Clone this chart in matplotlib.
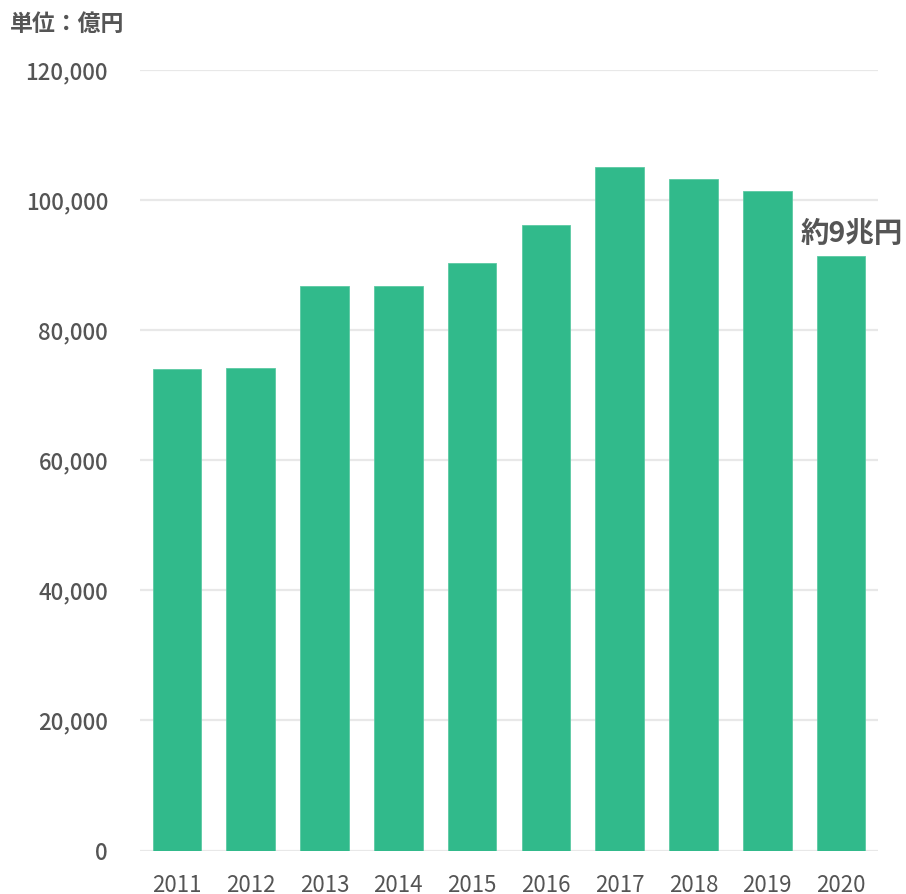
import matplotlib
matplotlib.use("Agg")
from matplotlib import pyplot as plt
import numpy as np

# data (億円)
years = ['2011', '2012', '2013', '2014', '2015', '2016', '2017', '2018', '2019', '2020']
values = [74100, 74200, 86800, 86800, 90250, 96100, 105150, 103250, 101400, 91350]
yticks = [0, 20000, 40000, 60000, 80000, 100000, 120000]
unit_label = '単位：億円'
note_label = '約9兆円'

plt.rcParams['font.family'] = ['Noto Sans CJK JP', 'DejaVu Sans']

bar_color = '#31BA8B'
text_color = '#555555'

fig = plt.figure(figsize=(9.06, 8.94), dpi=100)
ax = fig.add_axes([140 / 906, 43.5 / 894, 738 / 906, 780.5 / 894])

x = np.arange(len(years))
ax.bar(x, values, width=0.66, color=bar_color, edgecolor='#5cc9a3', linewidth=0.6, zorder=3)

ax.set_xlim(-0.5, len(years) - 0.5)
ax.set_ylim(0, 120000)
ax.set_yticks(yticks)
ax.set_yticklabels([f'{v:,}' for v in yticks])
ax.set_xticks(x)
ax.set_xticklabels(years)

ax.grid(axis='y', color='#e8e8e8', linewidth=1.6, zorder=0)
ax.set_axisbelow(True)
for s in ax.spines.values():
    s.set_visible(False)

ax.tick_params(axis='y', length=0, pad=23, labelsize=16, labelcolor=text_color)
ax.tick_params(axis='x', length=0, pad=17, labelsize=16, labelcolor=text_color)
for lab in ax.get_yticklabels():
    lab.set_fontweight('medium')

# annotation above last bar
ax.annotate(note_label, xy=(x[-1], values[-1]), xytext=(8, 6), textcoords='offset points',
            ha='center', va='bottom', fontsize=20.5, fontweight='bold', color=text_color)

fig.text(10 / 906, 1 - 24 / 894, unit_label, ha='left', va='center',
         fontsize=16.5, fontweight='bold', color=text_color)

fig.savefig('out.png', dpi=100, facecolor='white')
